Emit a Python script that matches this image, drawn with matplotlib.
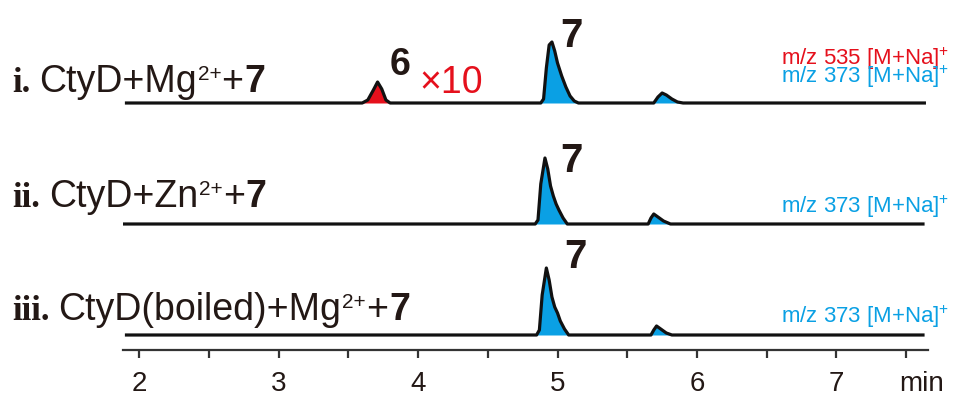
import numpy as np
import matplotlib.pyplot as plt

plt.rcParams['font.family'] = ['Liberation Sans', 'DejaVu Sans']
plt.rcParams['mathtext.fontset'] = 'custom'
plt.rcParams['mathtext.rm'] = 'Liberation Sans'
plt.rcParams['mathtext.bf'] = 'Liberation Sans:bold'

# retention time (min) and peak height
t_start = [1.91, 1.87, 1.91]
t_end = [7.63, 7.62, 7.62]

# trace i
i_pk6_t = [3.60, 3.64, 3.68, 3.71, 3.74, 3.77, 3.80]
i_pk6_h = [0, 3, 13, 21, 14, 3, 0]
i_pk7_t = [4.88, 4.90, 4.92, 4.94, 4.96, 4.98, 5.00, 5.03, 5.06, 5.09, 5.12, 5.15]
i_pk7_h = [0, 4, 35, 58, 61, 52, 40, 27, 16, 7, 2, 0]
i_pkb_t = [5.69, 5.72, 5.75, 5.78, 5.82, 5.86, 5.90]
i_pkb_h = [0, 6, 10, 8, 4, 1, 0]

# trace ii
ii_pk7_t = [4.84, 4.86, 4.88, 4.91, 4.93, 4.95, 4.97, 4.99, 5.01, 5.04, 5.07]
ii_pk7_h = [0, 4, 40, 66, 55, 38, 28, 20, 14, 6, 0]
ii_pkb_t = [5.65, 5.67, 5.69, 5.72, 5.76, 5.81]
ii_pkb_h = [0, 6, 10, 7, 3, 0]

# trace iii
iii_pk7_t = [4.85, 4.87, 4.89, 4.92, 4.94, 4.96, 4.98, 5.00, 5.02, 5.05, 5.08]
iii_pk7_h = [0, 5, 40, 67, 55, 38, 28, 22, 14, 6, 0]
iii_pkb_t = [5.67, 5.69, 5.71, 5.74, 5.78, 5.82]
iii_pkb_h = [0, 5, 9, 6, 2, 0]

major_ticks = [2, 3, 4, 5, 6, 7]
minor_ticks = [2.5, 3.5, 4.5, 5.5, 6.5, 7.5]

RED = '#e5101c'
BLUE = '#0aa0e4'
INK = '#231815'

fig = plt.figure(figsize=(9.57, 3.99), dpi=100)
ax = fig.add_axes([123/957, 49/399, 805/957, 350/399])
ax.set_xlim(1.885, 7.656)
ax.set_ylim(0, 350)

offsets = [247, 126, 15]
traces = [
    [(i_pk6_t, i_pk6_h, RED), (i_pk7_t, i_pk7_h, BLUE), (i_pkb_t, i_pkb_h, BLUE)],
    [(ii_pk7_t, ii_pk7_h, BLUE), (ii_pkb_t, ii_pkb_h, BLUE)],
    [(iii_pk7_t, iii_pk7_h, BLUE), (iii_pkb_t, iii_pkb_h, BLUE)],
]

for k, peaks in enumerate(traces):
    base = offsets[k]
    t = [t_start[k]]
    h = [0]
    for pt, ph, col in peaks:
        ax.fill_between(pt, base, base + np.array(ph), color=col, lw=0)
        t += pt
        h += ph
    t.append(t_end[k])
    h.append(0)
    ax.plot(t, base + np.array(h), color='#111111', lw=2.3, solid_joinstyle='round')

# left labels, put together piece by piece (serif numeral, superscript charge)
renderer = fig.canvas.get_renderer()
px_per_min = ax.transData.transform((3, 0))[0] - ax.transData.transform((2, 0))[0]

def chain(x, y, pieces):
    for s, kw, raise_px, gap in pieces:
        x += gap / px_per_min
        t = ax.text(x, y + raise_px, s, color=INK, va='baseline', **kw)
        bb = t.get_window_extent(renderer)
        x += bb.width / px_per_min

num = dict(fontsize=25, family='Liberation Serif', weight='bold')
reg = dict(fontsize=27)
sup = dict(fontsize=15)
bold = dict(fontsize=27, weight='bold')

chain(1.09, 258, [('i.', num, 0, 0), ('CtyD+Mg', reg, 0, 9), ('2+', sup, 12, 1),
                  ('+', reg, 0, 0), ('7', bold, 0, 1)])
chain(1.09, 143, [('ii.', num, 0, 0), ('CtyD+Zn', reg, 0, 9), ('2+', sup, 12, 1),
                  ('+', reg, 0, 0), ('7', bold, 0, 1)])
chain(1.09, 30, [('iii.', num, 0, 0), ('CtyD(boiled)+Mg', reg, 0, 9), ('2+', sup, 12, 1),
                 ('+', reg, 0, 0), ('7', bold, 0, 1)])

# compound labels
ax.text(3.80, 275, '6', fontsize=27, weight='bold', color=INK, va='baseline')
ax.text(4.01, 257, '×10', fontsize=27, color=RED, va='baseline')
ax.text(5.02, 303, '7', fontsize=29, weight='bold', color=INK, va='baseline')
ax.text(5.02, 178, '7', fontsize=29, weight='bold', color=INK, va='baseline')
ax.text(5.05, 82, '7', fontsize=29, weight='bold', color=INK, va='baseline')

# ion labels
ax.text(7.81, 285, 'm/z 535 [M+Na]$^{+}$', fontsize=16, color=RED, ha='right', va='baseline')
ax.text(7.81, 267, 'm/z 373 [M+Na]$^{+}$', fontsize=16, color=BLUE, ha='right', va='baseline')
ax.text(7.81, 137, 'm/z 373 [M+Na]$^{+}$', fontsize=16, color=BLUE, ha='right', va='baseline')
ax.text(7.81, 27, 'm/z 373 [M+Na]$^{+}$', fontsize=16, color=BLUE, ha='right', va='baseline')

for s in ['left', 'right', 'top']:
    ax.spines[s].set_visible(False)
ax.spines['bottom'].set_linewidth(1.6)
ax.spines['bottom'].set_color('#333333')
ax.set_yticks([])
ax.set_xticks(major_ticks)
ax.set_xticks(minor_ticks, minor=True)
ax.tick_params(axis='x', which='both', direction='out', length=6, width=1.6,
               color='#333333', labelsize=20, labelcolor=INK, pad=9)
ax.text(7.61, -21, 'min', fontsize=20, color=INK, ha='center', va='top')

fig.savefig('out.png', dpi=100)
